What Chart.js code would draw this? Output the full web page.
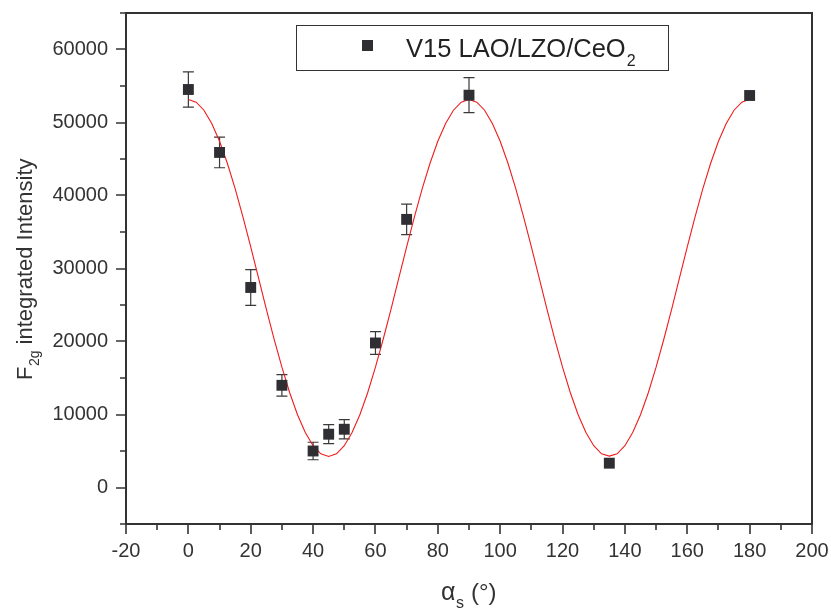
<!DOCTYPE html>
<html>
<head>
<meta charset="utf-8">
<script src="https://cdn.jsdelivr.net/npm/chart.js@4.4.1/dist/chart.umd.min.js"></script>
<style>
  html, body { margin: 0; padding: 0; background: #ffffff; }
  #wrap { width: 831px; height: 612px; }
</style>
</head>
<body>
<div id="wrap"><canvas id="c" width="831" height="612"></canvas></div>
<script>
// ---- data ----
const angles      = [0, 10, 20, 30, 40, 45, 50, 60, 70, 90, 135, 180];
const intensity   = [54520, 45900, 27400, 14000, 5000, 7300, 7980, 19800, 36730, 53740, 3330, 53700];
const errors      = [2420, 2100, 2450, 1470, 1200, 1300, 1320, 1550, 2100, 2400, 0, 0];

const fitAngles   = [0, 2.5, 5, 7.5, 10, 12.5, 15, 17.5, 20, 22.5, 25, 27.5, 30, 32.5, 35, 37.5, 40, 42.5, 45,
                     47.5, 50, 52.5, 55, 57.5, 60, 62.5, 65, 67.5, 70, 72.5, 75, 77.5, 80, 82.5, 85, 87.5, 90,
                     92.5, 95, 97.5, 100, 102.5, 105, 107.5, 110, 112.5, 115, 117.5, 120, 122.5, 125, 127.5, 130, 132.5, 135,
                     137.5, 140, 142.5, 145, 147.5, 150, 152.5, 155, 157.5, 160, 162.5, 165, 167.5, 170, 172.5, 175, 177.5, 180];
const fitValues   = [53150, 52780, 51680, 49870, 47430, 44420, 40930, 37060, 32950, 28700, 24450, 20340, 16480, 12980, 9970, 7530, 5730, 4620, 4250,
                     4620, 5730, 7530, 9970, 12980, 16480, 20340, 24450, 28700, 32950, 37060, 40930, 44420, 47430, 49870, 51680, 52780, 53150,
                     52780, 51680, 49870, 47430, 44420, 40930, 37060, 32950, 28700, 24450, 20340, 16480, 12980, 9970, 7530, 5730, 4620, 4300,
                     4620, 5730, 7530, 9970, 12980, 16480, 20340, 24450, 28700, 32950, 37060, 40930, 44420, 47430, 49870, 51680, 52780, 53200];

const xTickLabels = [-20, 0, 20, 40, 60, 80, 100, 120, 140, 160, 180, 200];
const xMinorTicks = [-10, 10, 30, 50, 70, 90, 110, 130, 150, 170, 190];
const yTickLabels = [0, 10000, 20000, 30000, 40000, 50000, 60000];
const yMinorTicks = [-5000, 5000, 15000, 25000, 35000, 45000, 55000, 65000];

const seriesName  = 'V15 LAO/LZO/CeO';
const seriesSub   = '2';

const AXIS = '#333333';
const FONT = '"Liberation Sans", Arial, Helvetica, sans-serif';

const decor = {
  id: 'decor',
  beforeDatasetsDraw(chart) {
    const ctx = chart.ctx;
    const x = chart.scales.x, y = chart.scales.y;
    ctx.save();
    ctx.strokeStyle = '#3a3a3a';
    ctx.lineWidth = 1.2;
    angles.forEach((a, i) => {
      const e = errors[i];
      if (!e) return;
      const px = x.getPixelForValue(a);
      const pt = y.getPixelForValue(intensity[i] + e);
      const pb = y.getPixelForValue(intensity[i] - e);
      ctx.beginPath();
      ctx.moveTo(px, pt); ctx.lineTo(px, pb);
      ctx.moveTo(px - 5.5, pt); ctx.lineTo(px + 5.5, pt);
      ctx.moveTo(px - 5.5, pb); ctx.lineTo(px + 5.5, pb);
      ctx.stroke();
    });
    ctx.restore();
  },
  afterDraw(chart) {
    const ctx = chart.ctx;
    const a = chart.chartArea;
    const x = chart.scales.x, y = chart.scales.y;
    ctx.save();
    ctx.strokeStyle = AXIS;
    ctx.lineWidth = 2;
    ctx.strokeRect(a.left, a.top, a.right - a.left, a.bottom - a.top);
    ctx.lineWidth = 1.6;
    ctx.beginPath();
    xTickLabels.forEach(v => { const p = Math.round(x.getPixelForValue(v)); ctx.moveTo(p, a.bottom); ctx.lineTo(p, a.bottom + 10); });
    xMinorTicks.forEach(v => { const p = Math.round(x.getPixelForValue(v)); ctx.moveTo(p, a.bottom); ctx.lineTo(p, a.bottom + 6); });
    yTickLabels.forEach(v => { const p = Math.round(y.getPixelForValue(v)); ctx.moveTo(a.left, p); ctx.lineTo(a.left - 10, p); });
    yMinorTicks.forEach(v => { const p = Math.round(y.getPixelForValue(v)); ctx.moveTo(a.left, p); ctx.lineTo(a.left - 6, p); });
    ctx.stroke();

    // legend
    ctx.lineWidth = 1;
    ctx.strokeStyle = '#333333';
    ctx.strokeRect(296.5, 25.5, 372, 45);
    ctx.fillStyle = '#2e2e33';
    ctx.fillRect(362, 40, 11, 11);
    ctx.fillStyle = '#222222';
    ctx.textBaseline = 'alphabetic';
    ctx.textAlign = 'left';
    ctx.font = '25.5px ' + FONT;
    ctx.fillText(seriesName, 406, 56.5);
    const w = ctx.measureText(seriesName).width;
    ctx.font = '16px ' + FONT;
    ctx.fillText(seriesSub, 406 + w + 1, 66);

    // x title
    ctx.fillStyle = '#333333';
    ctx.font = '25px ' + FONT;
    ctx.fillText('\u03B1', 441, 600);
    ctx.font = '16px ' + FONT;
    ctx.fillText('s', 456, 608);
    ctx.font = '24px ' + FONT;
    ctx.fillText('(\u00B0)', 471, 600);

    // y title
    ctx.save();
    ctx.translate(31.5, 380);
    ctx.rotate(-Math.PI / 2);
    ctx.font = '22px ' + FONT;
    ctx.fillText('F', 0, 0);
    let off = ctx.measureText('F').width;
    ctx.font = '14px ' + FONT;
    ctx.fillText('2g', off + 0.5, 7);
    off += ctx.measureText('2g').width + 0.5;
    ctx.font = '22px ' + FONT;
    ctx.fillText(' integrated Intensity', off, 0);
    ctx.restore();

    ctx.restore();
  }
};

new Chart(document.getElementById('c'), {
  type: 'scatter',
  data: {
    datasets: [
      {
        label: 'points',
        data: angles.map((a, i) => ({ x: a, y: intensity[i] })),
        pointStyle: 'rect',
        pointRadius: 7.7,
        pointHoverRadius: 7.7,
        backgroundColor: '#2e2e33',
        borderColor: '#2e2e33',
        borderWidth: 0,
        order: 0
      },
      {
        label: 'fit',
        type: 'line',
        data: fitAngles.map((a, i) => ({ x: a, y: fitValues[i] })),
        borderColor: '#f01c1c',
        borderWidth: 1.1,
        pointRadius: 0,
        tension: 0,
        fill: false,
        order: 1
      }
    ]
  },
  options: {
    responsive: false,
    animation: false,
    events: [],
    layout: { padding: { top: 13, right: 19, left: 0, bottom: 0 } },
    plugins: { legend: { display: false }, tooltip: { enabled: false } },
    scales: {
      x: {
        type: 'linear',
        min: -20, max: 200,
        afterBuildTicks: s => { s.ticks = xTickLabels.map(v => ({ value: v })); },
        afterFit: s => { s.height = 88; s.paddingLeft = 0; s.paddingRight = 0; },
        grid: { display: false, drawTicks: false },
        border: { display: false },
        ticks: {
          padding: 15,
          color: '#333333',
          font: { family: FONT, size: 20 },
          callback: v => String(v),
          maxRotation: 0,
          autoSkip: false
        }
      },
      y: {
        type: 'linear',
        min: -5000, max: 65000,
        afterBuildTicks: s => { s.ticks = yTickLabels.map(v => ({ value: v })); },
        afterFit: s => { s.width = 126; s.paddingTop = 0; s.paddingBottom = 0; },
        grid: { display: false, drawTicks: false },
        border: { display: false },
        ticks: {
          padding: 18,
          color: '#333333',
          font: { family: FONT, size: 20 },
          callback: v => String(v),
          autoSkip: false
        }
      }
    }
  },
  plugins: [decor]
});
</script>
</body>
</html>
